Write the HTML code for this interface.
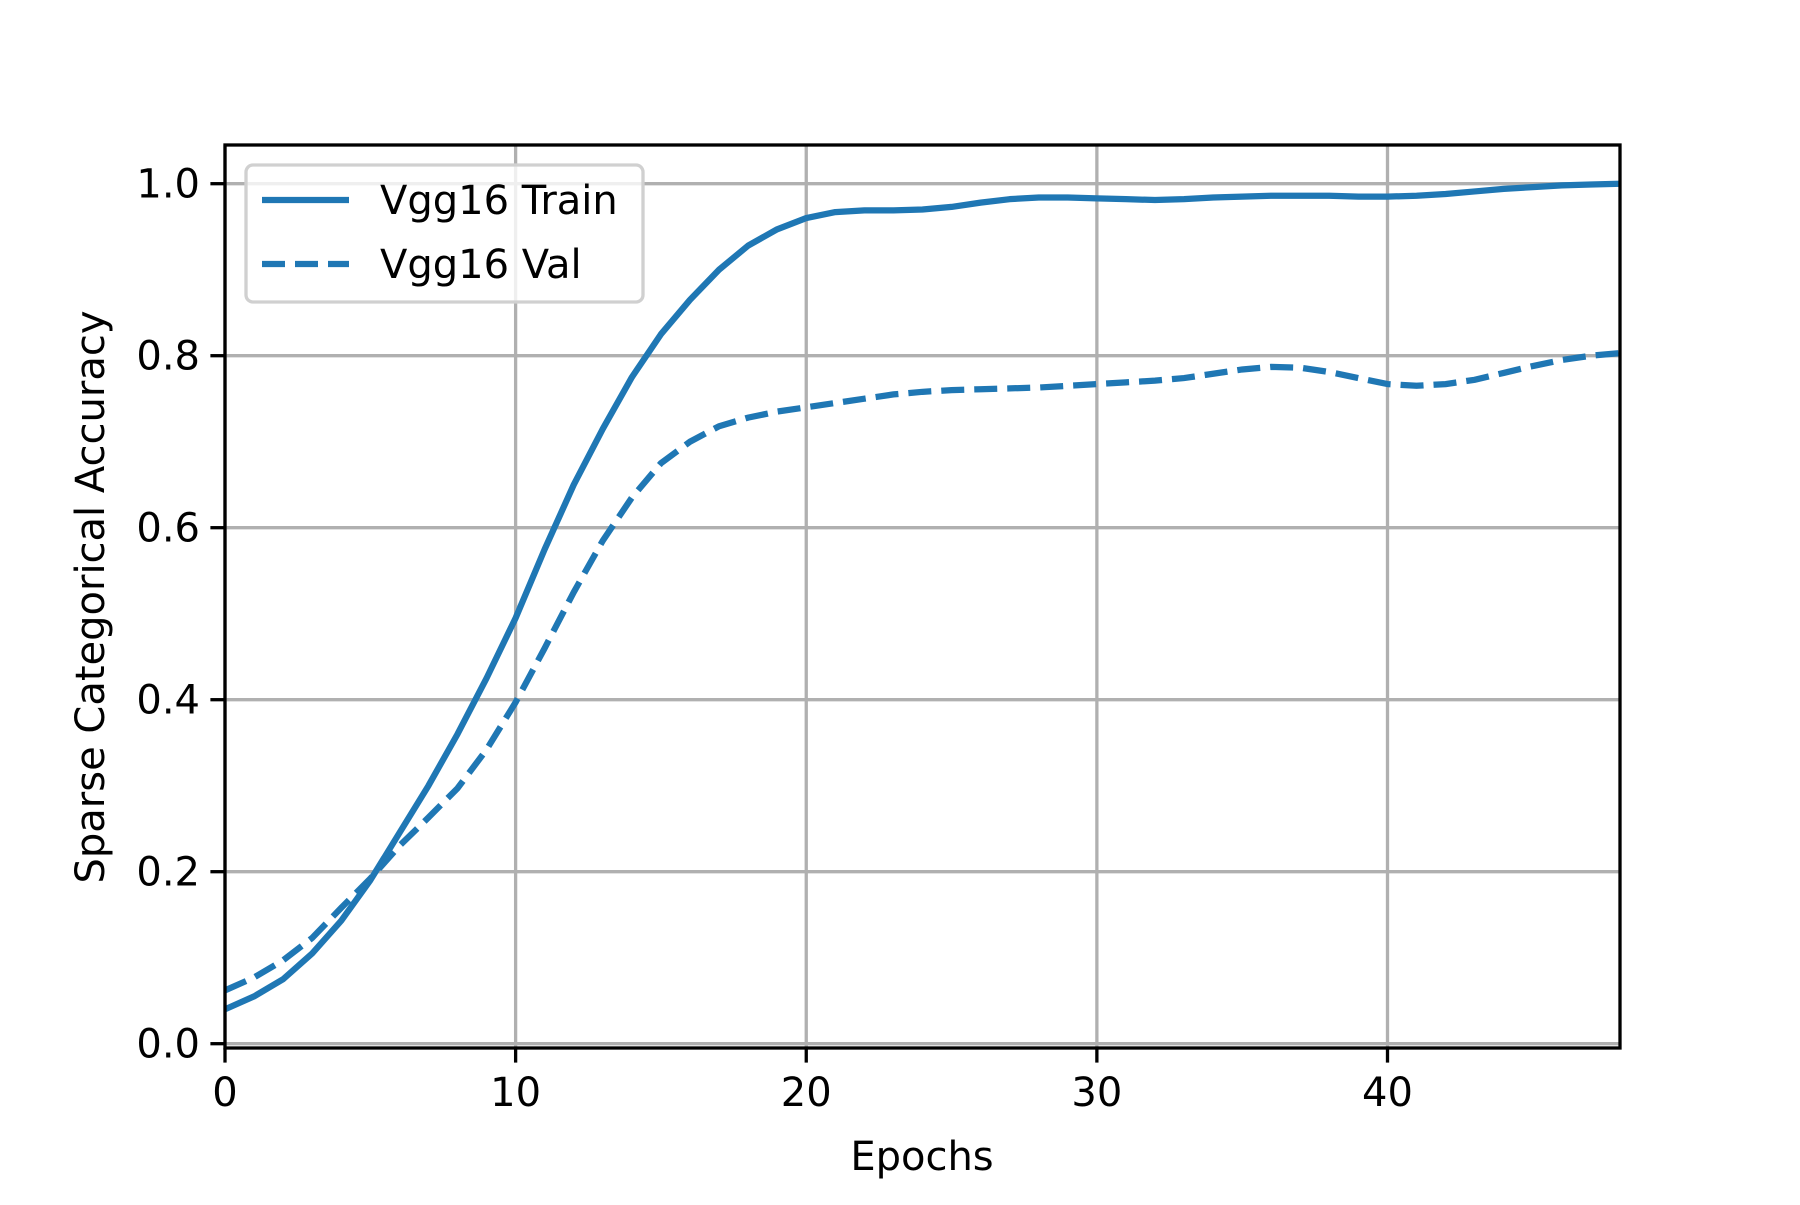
<!DOCTYPE html>
<html><head><meta charset="utf-8"><style>
html,body{margin:0;padding:0;background:#fff;}
svg text{font-family:"DejaVu Sans","Liberation Sans",sans-serif;fill:#000;}
</style></head><body>
<svg id="chart" width="1800" height="1200" viewBox="0 0 1800 1200" xmlns="http://www.w3.org/2000/svg">
<rect width="1800" height="1200" fill="#fff"/>
<g id="grid"></g>
<g id="series"></g>
<rect x="225" y="145" width="1395" height="903" fill="none" stroke="#000" stroke-width="3.3"/>
<g id="ticks"></g>
<text x="922" y="1170" font-size="40" text-anchor="middle">Epochs</text>
<text transform="translate(104,597) rotate(-90)" font-size="40" text-anchor="middle">Sparse Categorical Accuracy</text>
<g>
<rect x="246" y="165" width="397" height="137" rx="7" fill="#fff" fill-opacity="0.8" stroke="#d0d0d0" stroke-width="3.3"/>
<line x1="262" y1="200" x2="349" y2="200" stroke="#1f77b4" stroke-width="6.25"/>
<text x="380" y="214" font-size="40">Vgg16 Train</text>
<line x1="262" y1="264" x2="349" y2="264" stroke="#1f77b4" stroke-width="6.25" stroke-dasharray="23,10"/>
<text x="380" y="278" font-size="40">Vgg16 Val</text>
</g>
</svg>
<script>
const epochs = Array.from({length:49},(_,i)=>i);
const trainAcc = [0.04,0.055,0.075,0.105,0.143,0.19,0.245,0.30,0.36,0.425,0.495,0.575,0.65,0.715,0.775,0.825,0.865,0.90,0.928,0.947,0.96,0.967,0.969,0.969,0.970,0.973,0.978,0.982,0.984,0.984,0.983,0.982,0.981,0.982,0.984,0.985,0.986,0.986,0.986,0.985,0.985,0.986,0.988,0.991,0.994,0.996,0.998,0.999,1.0];
const valAcc = [0.062,0.077,0.097,0.123,0.158,0.192,0.23,0.263,0.297,0.342,0.397,0.46,0.525,0.585,0.635,0.675,0.70,0.718,0.728,0.735,0.74,0.745,0.75,0.755,0.758,0.76,0.761,0.762,0.763,0.765,0.767,0.769,0.771,0.774,0.779,0.784,0.787,0.786,0.781,0.774,0.767,0.765,0.767,0.772,0.78,0.788,0.795,0.8,0.803];
const xTicks = [0,10,20,30,40];
const yTicks = [0.0,0.2,0.4,0.6,0.8,1.0];
const xDomain = [0,48];
const yDomain = [-0.005,1.045];
const L=225,R=1620,T=145,B=1048;
const xs = v => L + (v-xDomain[0])/(xDomain[1]-xDomain[0])*(R-L);
const ys = v => B - (v-yDomain[0])/(yDomain[1]-yDomain[0])*(B-T);
const NS='http://www.w3.org/2000/svg';
const grid=document.getElementById('grid'), ticks=document.getElementById('ticks'), series=document.getElementById('series');
function mk(tag,attrs,parent){const e=document.createElementNS(NS,tag);for(const k in attrs)e.setAttribute(k,attrs[k]);parent.appendChild(e);return e;}
xTicks.forEach(t=>{
  const x=xs(t);
  const g=mk('line',{x1:x,y1:T,x2:x,y2:B,stroke:'#b0b0b0','stroke-width':3.3},grid);
  
  
  const tk=mk('line',{x1:x,y1:B,x2:x,y2:B+14.6,stroke:'#000','stroke-width':3.3},ticks);
  
  
  const lb=mk('text',{x:x,y:B+58,'font-size':40,'text-anchor':'middle'},ticks);
  lb.textContent=String(t);
  
  
});
yTicks.forEach(t=>{
  const y=ys(t);
  const g=mk('line',{x1:L,y1:y,x2:R,y2:y,stroke:'#b0b0b0','stroke-width':3.3},grid);
  
  
  const tk=mk('line',{x1:L-14.6,y1:y,x2:L,y2:y,stroke:'#000','stroke-width':3.3},ticks);
  
  
  const lb=mk('text',{x:L-25,y:y+14,'font-size':40,'text-anchor':'end'},ticks);
  lb.textContent=t.toFixed(1);
  
  
});
function path(vals){return vals.map((v,i)=>(i?'L':'M')+xs(epochs[i]).toFixed(2)+','+ys(v).toFixed(2)).join(' ');}
const p1=mk('path',{d:path(trainAcc),fill:'none',stroke:'#1f77b4','stroke-width':6.25,'stroke-linejoin':'round'},series);


const p2=mk('path',{d:path(valAcc),fill:'none',stroke:'#1f77b4','stroke-width':6.25,'stroke-dasharray':'23,10'},series);


</script>
</body></html>
